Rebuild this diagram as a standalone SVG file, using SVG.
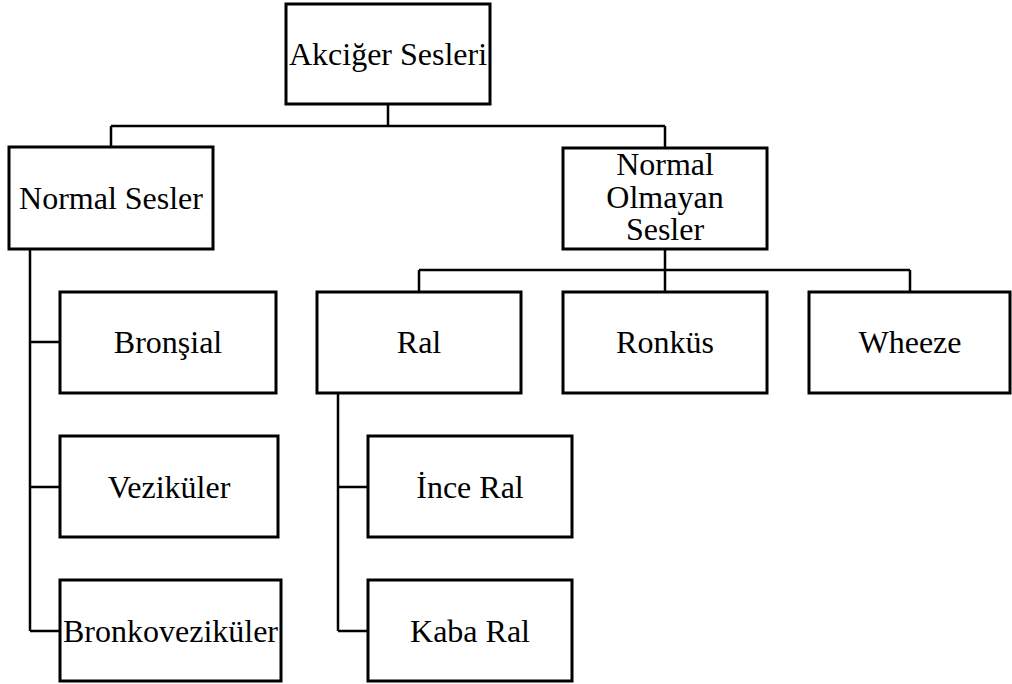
<svg xmlns="http://www.w3.org/2000/svg" width="1012" height="684" viewBox="0 0 1012 684">
<style>
.box{fill:#fff;stroke:#000;stroke-width:3}
.c{fill:none;stroke:#000;stroke-width:2.5}
</style>
<rect width="1012" height="684" fill="#fff"/>
<g id="connectors">
<path class="c" d="M388,104V126M111,126H665M111,126V147M665,126V148"/>
<path class="c" d="M665,249V270M419,270H910M419,270V292M665,270V292M910,270V292"/>
<path class="c" d="M30,249V631M30,342H60M30,487H60M30,631H60"/>
<path class="c" d="M338,393V631M338,487H368M338,631H368"/>
</g>
<g font-family="Liberation Serif" font-size="32" text-anchor="middle" fill="#000">
<g id="n-akciger"><rect class="box" x="286" y="4" width="204" height="100"/><text x="388" y="65">Akciğer Sesleri</text></g>
<g id="n-normal"><rect class="box" x="9" y="147" width="204" height="102"/><text x="111" y="209">Normal Sesler</text></g>
<g id="n-anormal"><rect class="box" x="563" y="148" width="204" height="101"/><text x="665" y="175">Normal<tspan x="665" y="208">Olmayan</tspan><tspan x="665" y="240">Sesler</tspan></text></g>
<g id="n-bronsial"><rect class="box" x="60" y="292" width="216" height="101"/><text x="168" y="353">Bronşial</text></g>
<g id="n-ral"><rect class="box" x="317" y="292" width="204" height="101"/><text x="419" y="353">Ral</text></g>
<g id="n-ronkus"><rect class="box" x="563" y="292" width="204" height="101"/><text x="665" y="353">Ronküs</text></g>
<g id="n-wheeze"><rect class="box" x="809" y="292" width="201" height="101"/><text x="910" y="353">Wheeze</text></g>
<g id="n-vezikuler"><rect class="box" x="60" y="436" width="218" height="101"/><text x="169" y="498">Veziküler</text></g>
<g id="n-bronkovezikuler"><rect class="box" x="60" y="580" width="221" height="101"/><text x="170.500" y="642">Bronkoveziküler</text></g>
<g id="n-inceral"><rect class="box" x="368" y="436" width="204" height="101"/><text x="470" y="498">İnce Ral</text></g>
<g id="n-kabaral"><rect class="box" x="368" y="580" width="204" height="101"/><text x="470" y="642">Kaba Ral</text></g>
</g>
</svg>
